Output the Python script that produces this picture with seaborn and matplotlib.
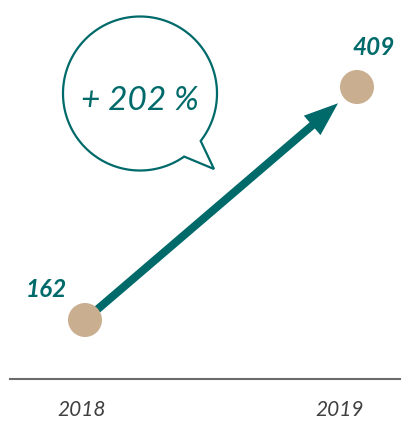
import numpy as np
import pandas as pd
import matplotlib
matplotlib.use("Agg")
import matplotlib.pyplot as plt
import matplotlib.transforms as mtransforms
from matplotlib.patches import Polygon, FancyArrowPatch, ArrowStyle
import seaborn as sns

# ---- data ----
years = ["2018", "2019"]
values = [162, 409]
change_label = "+ 202 %"

TEAL = "#006a6a"
TAN = "#c9ae90"
GRAY = "#6b6b6b"
TXT = "#404040"

W, H = 401, 421
sns.set_theme(style="white")
plt.rcParams["font.family"] = ["Lato", "DejaVu Sans"]

fig = plt.figure(figsize=(W / 100, H / 100), dpi=100)
ax = fig.add_axes([10 / W, 42 / H, 391 / W, 379 / H])

df = pd.DataFrame({"pos": np.arange(len(years)), "year": years, "value": values})

# arrow between the two points
arr = FancyArrowPatch(
    (df["pos"][0], df["value"][0]), (df["pos"][1], df["value"][1]),
    arrowstyle=ArrowStyle.Simple(head_length=24.5, head_width=18.4, tail_width=5.8),
    mutation_scale=1, shrinkA=0, shrinkB=18, color=TEAL, lw=0, zorder=2,
)
ax.add_patch(arr)

sns.scatterplot(data=df, x="pos", y="value", s=600, color=TAN, edgecolor="none",
                ax=ax, zorder=3, legend=False)

# value labels
offsets = [(-28, 16.6), (12.2, 23)]
for (p, v), (dx, dy) in zip(zip(df["pos"], df["value"]), offsets):
    ax.annotate(str(v), (p, v), xytext=(dx, dy), textcoords="offset points",
                ha="center", va="baseline", fontsize=17.5, fontweight="bold",
                fontstyle="italic", color=TEAL)

# axis limits (pixels mapped): x=0 -> 85px, x=1 -> 357px
sx = 272.0
x0 = -(85 - 10) / sx
ax.set_xlim(x0, x0 + 391 / sx)
sy = 233.0 / 247.0
y0 = 162 - (421 - 320 - 42) / sy
ax.set_ylim(y0, y0 + 379 / sy)

ax.set_xticks(df["pos"], years)
ax.set_yticks([])
ax.tick_params(axis="x", length=0, pad=15, labelsize=15, labelcolor=TXT)
for lab in ax.get_xticklabels():
    lab.set_fontstyle("italic")
shifts = [-3, -17]
for lab, s in zip(ax.get_xticklabels(), shifts):
    lab.set_transform(lab.get_transform() +
                      mtransforms.ScaledTranslation(s / 100, 0, fig.dpi_scale_trans))
ax.set_xlabel("")
ax.set_ylabel("")
for side in ["top", "left", "right"]:
    ax.spines[side].set_visible(False)
ax.spines["bottom"].set_color(GRAY)
ax.spines["bottom"].set_linewidth(1.5)

# speech bubble (figure pixel coords, y downward)
pix = mtransforms.Affine2D().scale(1 / W, -1 / H).translate(0, 1) + fig.transFigure
cx, cy, r = 140, 93.5, 77
t = np.radians(np.linspace(55, 398, 200))
pts = list(zip(cx + r * np.cos(t), cy + r * np.sin(t)))
pts.append((214, 169))
bubble = Polygon(pts, closed=True, fill=False, edgecolor=TEAL, lw=1.6,
                 transform=pix, joinstyle="miter")
fig.add_artist(bubble)
fig.text(140 / W, 1 - 110 / H, change_label, ha="center", va="baseline",
         fontsize=24, fontstyle="italic", color=TEAL)

fig.savefig("out.png", dpi=100)
